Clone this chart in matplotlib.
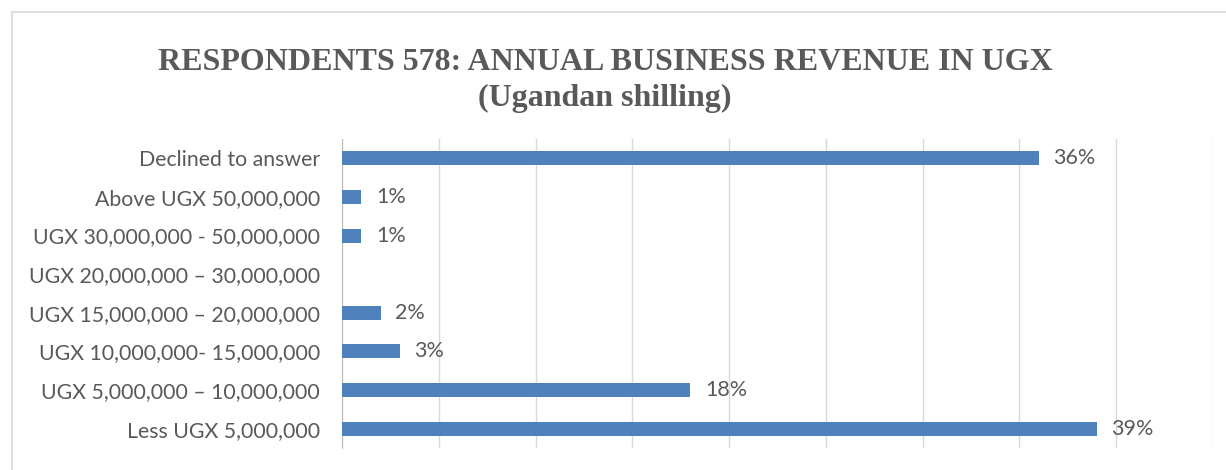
import matplotlib.pyplot as plt
from matplotlib.patches import Rectangle

# categories bottom -> top (as drawn by barh)
categories = ["Less UGX 5,000,000", "UGX 5,000,000 \u2013 10,000,000",
              "UGX 10,000,000- 15,000,000", "UGX 15,000,000 \u2013 20,000,000",
              "UGX 20,000,000 \u2013 30,000,000", "UGX 30,000,000 - 50,000,000",
              "Above UGX 50,000,000", "Declined to answer"]
values = [39, 18, 3, 2, 0, 1, 1, 36]
value_labels = ["39%", "18%", "3%", "2%", "", "1%", "1%", "36%"]

grey = "#595959"
fig = plt.figure(figsize=(12.26, 4.70), dpi=100)
# outer chart frame
fig.patches.append(Rectangle((12/1226, -0.1), 1.2, (470-12)/470 + 0.1, transform=fig.transFigure,
                             fill=False, edgecolor="#d9d9d9", linewidth=1.2))
ax = fig.add_axes([342/1226, 1-448/470, (1213-342)/1226, (448-139)/470])

y = range(len(categories))
ax.barh(y, values, height=0.36, color="#4F81BD", zorder=3)
for yi, v, lab in zip(y, values, value_labels):
    if lab:
        ax.text(v + 0.75, yi, lab, va="center", ha="left", color=grey,
                fontsize=15.5, family="Lato")

ax.set_xlim(0, 45)
ax.set_ylim(-0.5, len(categories) - 0.5)
ax.set_xticks(range(0, 46, 5))
ax.set_xticklabels([])
ax.set_yticks(list(y))
ax.set_yticklabels(categories, color=grey, fontsize=15.3, family="Lato")
ax.tick_params(axis="both", length=0, pad=16)
ax.grid(axis="x", color="#d9d9d9", linewidth=1, zorder=0)
for s in ["top", "right", "bottom"]:
    ax.spines[s].set_visible(False)
ax.spines["left"].set_color("#bfbfbf")

fig.text(605/1226, 1-62/470, "RESPONDENTS 578: ANNUAL BUSINESS REVENUE IN UGX",
         ha="center", va="center", fontsize=23, fontweight="bold",
         family="Liberation Serif", color=grey)
fig.text(605/1226, 1-98/470, "(Ugandan shilling)", ha="center", va="center",
         fontsize=23, fontweight="bold", family="Liberation Serif", color=grey)

fig.savefig("out.png", dpi=100)
